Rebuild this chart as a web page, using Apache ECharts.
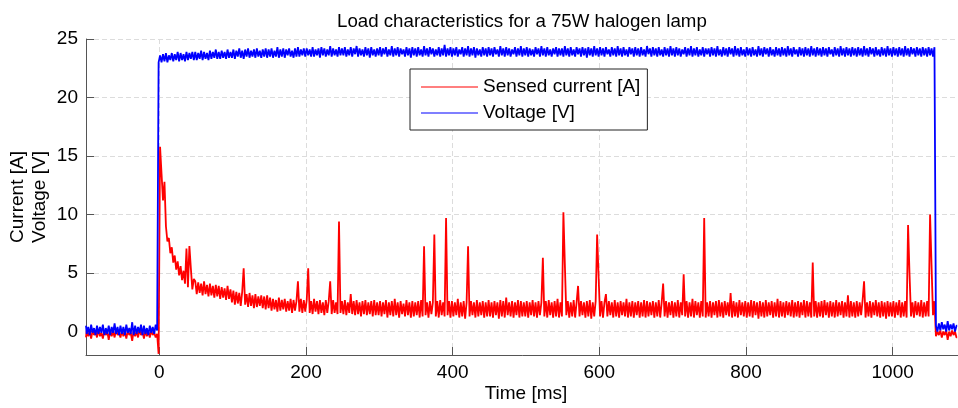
<!DOCTYPE html>
<html>
<head>
<meta charset="utf-8">
<script src="https://cdn.jsdelivr.net/npm/echarts@6/dist/echarts.min.js"></script>
<style>
html,body{margin:0;padding:0;background:#fff;}
#chart{width:958px;height:408px;}
</style>
</head>
<body>
<div id="chart"></div>
<script>
// Sampling grid of the recording (ms)
const sampleStartMs = -100;
const samplePeriodMs = 2;

const titleText = 'Load characteristics for a 75W halogen lamp';
const xAxisName = 'Time [ms]';
const yAxisName = 'Current [A]\nVoltage [V]';
const seriesNames = ['Sensed current [A]', 'Voltage [V]'];

// Sensed current [A], one value per sample
const currentA = [
-0.5,0.1,-0.4,0.0,-0.6,0.1,-0.3,0.0,-0.5,0.2,-0.4,-0.1,-0.6,0.1,-0.3,0.0,-0.7,0.1,-0.4,0.0,-0.5,0.2,-0.3,-0.1,-0.5,
0.1,-0.4,0.0,-0.6,0.1,-0.3,-0.1,-0.8,0.1,-0.4,0.0,-0.5,0.2,-0.3,0.0,-0.6,0.1,-0.4,0.0,-0.5,0.1,-0.3,-0.1,-0.5,-0.2,
-1.9,15.8,13.5,11.2,12.8,9.0,7.7,8.0,6.7,7.2,5.9,6.5,5.3,6.0,4.8,5.6,4.4,5.2,4.1,7.1,3.8,7.3,5.4,3.6,4.5,
4.3,3.2,4.2,3.3,4.1,3.1,4.3,3.2,4.0,3.0,4.1,3.1,3.9,2.9,4.0,3.0,3.9,2.8,3.8,2.9,3.7,2.7,3.9,2.8,3.6,
2.5,3.5,2.3,3.4,2.4,3.3,2.2,3.4,5.4,2.3,3.2,2.1,3.3,2.2,3.1,2.0,3.2,2.1,3.0,2.2,3.1,2.0,3.0,1.9,3.1,
2.0,2.9,1.8,2.8,1.9,2.7,1.7,2.9,1.8,2.7,1.9,2.8,1.7,2.6,1.8,2.8,1.6,2.7,1.8,2.6,4.3,1.7,2.8,1.6,2.7,
1.7,2.7,5.4,1.6,2.6,1.5,2.8,1.7,2.6,1.5,2.7,1.6,2.5,1.4,2.7,1.6,2.6,4.3,1.5,2.7,1.6,2.5,1.5,9.4,1.6,
2.6,1.5,2.7,1.4,2.5,1.6,3.2,1.5,2.6,1.4,2.7,1.5,2.5,1.3,2.6,1.5,2.7,1.4,2.5,1.5,2.6,1.3,2.7,1.4,2.5,
1.4,2.6,1.3,2.5,1.5,2.7,1.2,2.5,1.4,2.6,1.3,2.8,1.4,2.5,1.2,2.6,1.5,2.4,1.3,2.7,1.4,2.5,1.2,2.6,1.3,
2.5,1.4,2.6,1.2,2.7,1.3,7.3,1.4,2.5,1.2,2.6,1.5,2.5,8.3,1.3,2.6,1.2,2.7,1.4,2.5,1.3,9.7,1.4,2.6,1.2,
2.6,1.3,2.5,1.4,2.8,1.2,2.5,1.3,2.6,1.1,2.5,7.3,1.3,2.6,1.4,2.5,1.2,2.7,1.3,2.5,1.4,2.6,1.2,2.5,1.3,
2.7,1.3,2.5,1.2,2.6,1.4,2.5,1.1,2.7,1.3,2.6,1.2,2.9,1.4,2.5,1.3,2.6,1.2,2.5,1.4,2.7,1.2,2.6,1.3,2.5,
1.3,2.6,1.2,2.5,1.4,2.7,1.3,2.5,1.2,2.6,1.4,2.5,6.3,1.3,2.6,1.2,2.7,1.4,2.5,1.2,2.6,1.3,2.8,1.2,2.5,
1.3,10.2,5.7,1.4,2.6,1.2,2.5,1.3,2.7,1.2,2.5,3.9,1.3,2.6,1.4,2.5,1.2,2.6,1.3,2.7,1.1,2.5,1.3,2.6,8.3,
4.7,1.3,2.6,1.2,2.5,3.2,1.3,2.6,1.4,2.5,1.2,2.7,1.3,2.5,1.2,2.6,1.4,2.5,1.3,2.8,1.2,2.5,1.3,2.6,1.2,
2.5,1.4,2.6,1.2,2.5,1.3,2.7,1.2,2.6,1.3,2.5,1.4,2.6,1.2,2.5,1.3,2.7,1.2,2.5,4.1,1.3,2.6,1.2,2.5,1.4,
2.6,1.2,2.5,1.3,2.7,1.2,2.5,1.4,4.9,1.3,2.6,1.2,2.5,1.3,2.8,1.2,2.6,1.4,2.5,1.2,2.6,1.3,9.7,1.2,2.5,
1.3,2.6,1.2,2.5,1.4,2.6,1.2,2.7,1.3,2.5,1.2,2.6,1.4,2.5,1.3,3.3,1.2,2.6,1.3,2.5,1.2,2.7,1.4,2.5,1.3,
2.6,1.2,2.5,1.3,2.7,1.2,2.6,1.4,2.5,1.1,2.6,1.3,2.5,1.2,2.7,1.3,2.5,1.4,2.6,1.2,2.5,1.3,2.8,1.2,2.6,
1.3,2.5,1.2,2.6,1.4,2.5,1.3,2.7,1.2,2.5,1.3,2.6,1.2,2.5,1.4,2.7,1.2,2.6,1.3,2.5,1.2,5.9,1.3,2.6,1.2,
2.5,1.3,2.6,1.2,2.7,1.4,2.5,1.2,2.6,1.3,2.5,1.2,2.7,1.3,2.5,1.4,2.6,1.2,2.5,1.3,3.1,1.2,2.6,1.3,2.5,
1.2,2.6,1.3,2.5,1.4,2.7,4.3,1.2,2.5,1.3,2.6,1.2,2.5,1.4,2.7,1.3,2.5,1.2,2.6,1.3,2.5,1.1,2.6,1.3,2.5,
1.3,2.6,1.2,2.5,1.4,2.7,1.2,2.5,1.3,2.6,1.2,9.1,4.9,1.3,2.5,1.2,2.6,1.4,2.5,1.3,2.7,1.2,2.5,1.3,2.6,
1.3,10.0,5.7,1.4,2.6,-0.4,0.0,-0.3,0.1,-0.5,0.0,-0.3,0.1,-0.7,0.0,-0.4,0.1,-0.3,0.0,-0.5
];

// Voltage [V], one value per sample
const voltageV = [
0.5,-0.2,0.4,-0.3,0.6,-0.1,0.3,-0.3,0.5,-0.2,0.4,-0.1,0.6,-0.3,0.3,-0.2,0.5,-0.3,0.4,-0.1,0.7,-0.2,0.4,-0.3,0.5,
-0.2,0.4,-0.3,0.6,-0.1,0.3,-0.2,0.8,-0.3,0.5,-0.2,0.4,-0.1,0.6,-0.3,0.5,-0.2,0.3,-0.3,0.5,-0.1,0.4,-0.2,0.6,0.1,
23.0,23.6,23.0,23.7,23.1,23.8,23.0,23.6,23.2,23.8,23.1,23.7,23.2,23.9,23.1,23.8,23.2,23.7,23.1,23.9,23.2,23.8,23.3,23.9,23.2,
23.9,23.2,23.8,23.3,24.0,23.2,23.9,23.3,23.8,23.2,24.0,23.3,23.9,23.4,24.1,23.3,23.9,23.3,24.0,23.4,23.9,23.3,24.1,23.4,23.9,
23.4,24.1,23.3,24.0,23.5,24.2,23.4,24.0,23.3,24.1,23.5,24.2,23.4,24.0,23.5,24.1,23.4,24.2,23.5,24.0,23.4,24.1,23.5,24.2,23.4,
24.1,23.5,24.2,23.4,24.0,23.5,24.3,23.4,24.1,23.5,24.2,23.4,24.1,23.6,24.2,23.5,24.0,23.4,24.2,23.5,24.3,23.5,24.1,23.6,24.2,
23.5,24.2,23.6,24.1,23.5,24.3,23.5,24.1,23.6,24.2,23.4,24.3,23.6,24.2,23.5,24.1,23.6,24.4,23.5,24.2,23.6,24.1,23.5,24.3,23.6,
24.2,23.6,24.3,23.5,24.1,23.6,24.3,23.5,24.2,23.7,24.4,23.5,24.2,23.6,24.1,23.5,24.3,23.6,24.2,23.4,24.3,23.6,24.1,23.5,24.2,
23.6,24.3,23.5,24.2,23.7,24.3,23.5,24.1,23.6,24.4,23.5,24.2,23.6,24.3,23.5,24.2,23.7,24.1,23.5,24.3,23.6,24.2,23.4,24.3,23.6,
24.2,23.5,24.3,23.6,24.1,23.5,24.4,23.6,24.2,23.5,24.3,23.7,24.2,23.5,24.1,23.6,24.3,23.5,24.2,23.6,24.5,23.5,24.2,23.6,24.3,
23.5,24.2,23.6,24.3,23.5,24.1,23.7,24.3,23.5,24.2,23.6,24.4,23.5,24.2,23.6,24.3,23.4,24.2,23.6,24.1,23.5,24.3,23.6,24.2,23.5,
24.3,23.6,24.2,23.5,24.3,23.7,24.1,23.5,24.4,23.6,24.2,23.5,24.3,23.6,24.2,23.5,24.1,23.7,24.3,23.5,24.2,23.6,24.4,23.5,24.2,
23.6,24.3,23.5,24.2,23.6,24.1,23.5,24.3,23.7,24.2,23.5,24.4,23.6,24.2,23.5,24.3,23.6,24.1,23.5,24.2,23.7,24.3,23.5,24.2,23.6,
24.2,23.5,24.4,23.6,24.2,23.5,24.3,23.6,24.1,23.5,24.3,23.7,24.2,23.5,24.3,23.6,24.2,23.4,24.3,23.6,24.2,23.5,24.4,23.6,24.2,
23.5,24.3,23.6,24.2,23.5,24.3,23.7,24.1,23.5,24.3,23.6,24.2,23.5,24.4,23.6,24.2,23.5,24.3,23.6,24.1,23.5,24.3,23.7,24.2,23.5,
24.3,23.6,24.2,23.5,24.3,23.6,24.1,23.5,24.4,23.7,24.2,23.5,24.3,23.6,24.2,23.5,24.3,23.6,24.1,23.5,24.3,23.6,24.2,23.5,24.4,
23.6,24.2,23.5,24.3,23.6,24.2,23.5,24.1,23.7,24.3,23.5,24.2,23.6,24.4,23.5,24.2,23.6,24.3,23.5,24.1,23.6,24.3,23.5,24.2,23.7,
24.2,23.5,24.3,23.6,24.2,23.5,24.4,23.6,24.1,23.5,24.3,23.6,24.2,23.5,24.3,23.7,24.2,23.5,24.4,23.6,24.2,23.5,24.3,23.6,24.1,
23.5,24.3,23.6,24.2,23.5,24.3,23.6,24.1,23.5,24.4,23.6,24.2,23.5,24.3,23.7,24.2,23.5,24.3,23.6,24.1,23.5,24.3,23.6,24.2,23.5,
24.3,23.6,24.2,23.5,24.4,23.6,24.2,23.5,24.3,23.7,24.1,23.5,24.3,23.6,24.2,23.5,24.3,23.6,24.2,23.5,24.4,23.6,24.2,23.5,24.3,
23.6,24.2,23.5,24.3,23.6,24.2,23.5,24.3,23.7,24.1,23.5,24.3,23.6,24.2,23.5,24.4,23.6,24.2,23.5,24.3,23.6,24.2,23.5,24.3,23.6,
24.2,23.5,24.3,23.6,24.2,23.5,24.4,23.6,24.2,23.5,24.3,23.7,24.2,23.5,24.3,23.6,24.1,23.5,24.3,23.6,24.2,23.5,24.4,23.6,24.2,
23.5,24.3,23.6,24.2,23.5,24.3,23.6,24.2,23.5,24.4,23.6,24.2,23.5,24.3,23.7,24.2,23.5,24.3,23.6,24.2,23.5,24.3,23.6,24.2,23.5,
24.3,23.6,24.2,23.5,24.3,0.5,0.0,0.7,0.1,0.8,0.2,0.6,0.0,0.9,0.1,0.6,0.2,0.7,0.0,0.5
];

// Axis ranges
const xRange = [-100, 1100];
const yRange = [-2, 25];

function toPairs(values) {
  return values.map(function (v, i) { return [sampleStartMs + i * samplePeriodMs, v]; });
}
function plainNumber(v) { return String(v); }

const FONT = 'Liberation Sans, Arial, Helvetica, sans-serif';
const chart = echarts.init(document.getElementById('chart'), null, { renderer: 'canvas' });

chart.setOption({
  animation: false,
  backgroundColor: '#ffffff',
  title: {
    text: titleText,
    left: 337,
    top: 12,
    padding: 0,
    textStyle: { fontFamily: FONT, fontSize: 18.7, fontWeight: 'normal', color: '#000' }
  },
  legend: {
    orient: 'vertical',
    left: 410,
    top: 69,
    padding: [7, 7, 6, 11],
    itemGap: 4,
    itemWidth: 57,
    itemHeight: 1,
    icon: 'rect',
    backgroundColor: '#fff',
    borderColor: '#222',
    borderWidth: 1,
    borderRadius: 0,
    data: seriesNames,
    textStyle: { fontFamily: FONT, fontSize: 19, color: '#000', lineHeight: 22 }
  },
  grid: { left: 86, top: 39, right: -8, bottom: 53, containLabel: false, outerBoundsMode: 'none' },
  xAxis: {
    type: 'value',
    min: xRange[0],
    max: xRange[1],
    splitNumber: 6,
    name: xAxisName,
    nameLocation: 'middle',
    nameGap: 29,
    nameMoveOverlap: false,
    nameTextStyle: { fontFamily: FONT, fontSize: 19, color: '#000' },
    axisLine: { show: true, onZero: false, lineStyle: { color: '#555', width: 1 } },
    axisTick: { show: true, inside: true, length: 8, lineStyle: { color: '#555' } },
    axisLabel: { fontFamily: FONT, fontSize: 19, color: '#000', margin: 8, showMinLabel: false, showMaxLabel: false, formatter: plainNumber },
    splitLine: { show: true, lineStyle: { color: '#dcdcdc', type: [5, 3], width: 1 } }
  },
  yAxis: {
    type: 'value',
    min: yRange[0],
    max: yRange[1],
    splitNumber: 5,
    name: yAxisName,
    nameLocation: 'middle',
    nameGap: 35,
    nameMoveOverlap: false,
    nameTextStyle: { fontFamily: FONT, fontSize: 19, color: '#000', lineHeight: 22 },
    axisLine: { show: true, onZero: false, lineStyle: { color: '#555', width: 1 } },
    axisTick: { show: true, inside: true, length: 8, lineStyle: { color: '#555' } },
    axisLabel: { fontFamily: FONT, fontSize: 19, color: '#000', margin: 8, showMinLabel: false, formatter: plainNumber },
    splitLine: { show: true, lineStyle: { color: '#dcdcdc', type: [5, 3], width: 1 } }
  },
  series: [
    {
      name: seriesNames[0],
      type: 'line',
      step: 'middle',
      data: toPairs(currentA),
      symbol: 'none',
      showSymbol: false,
      lineStyle: { color: '#ff0000', width: 1.8, join: 'bevel', cap: 'butt' },
      itemStyle: { color: '#ff0000' },
      z: 2
    },
    {
      name: seriesNames[1],
      type: 'line',
      step: 'middle',
      data: toPairs(voltageV),
      symbol: 'none',
      showSymbol: false,
      lineStyle: { color: '#0000ff', width: 1.8, join: 'bevel', cap: 'butt' },
      itemStyle: { color: '#0000ff' },
      z: 3
    }
  ]
});
</script>
</body>
</html>
